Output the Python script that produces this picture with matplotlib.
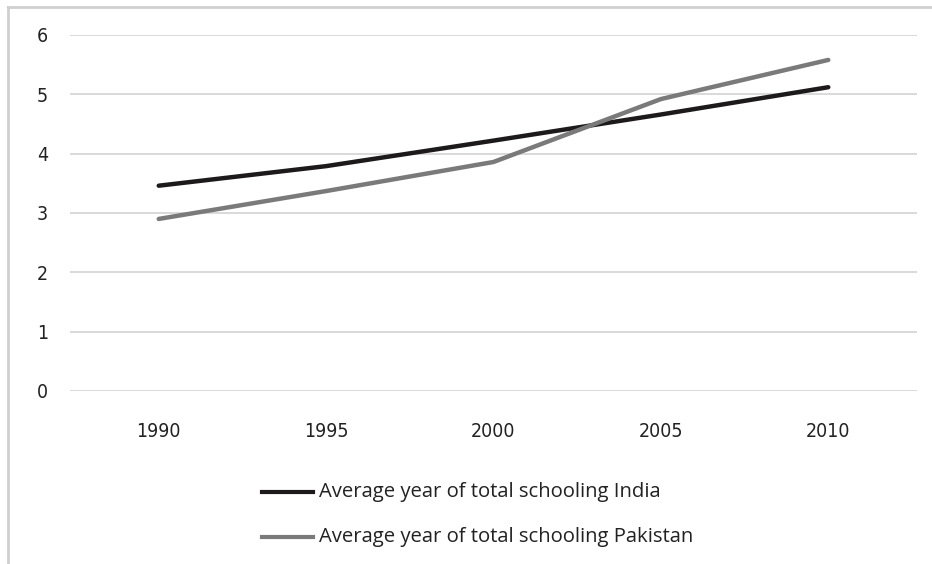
import matplotlib.pyplot as plt
from matplotlib.lines import Line2D

years = ['1990', '1995', '2000', '2005', '2010']
india = [3.46, 3.79, 4.22, 4.66, 5.12]
pakistan = [2.90, 3.37, 3.86, 4.92, 5.58]
y_ticks = [0, 1, 2, 3, 4, 5, 6]

fig = plt.figure(figsize=(9.32, 5.64), dpi=100)
ax = fig.add_axes([70 / 932, 1 - 391 / 564, (917 - 70) / 932, (391 - 35) / 564])

x = list(range(len(years)))
ax.plot(x, india, color='#1c1a1a', lw=3.2, solid_capstyle='round', zorder=3)
ax.plot(x, pakistan, color='#7a7a7a', lw=3.2, solid_capstyle='round', zorder=3)

ax.set_xlim(-0.53, len(years) - 0.47)
ax.set_ylim(0, 6)
ax.set_yticks(y_ticks)
ax.set_xticks(x)
ax.set_xticklabels(years)
ax.grid(axis='y', color='#d0d0d0', lw=1.1)
ax.set_axisbelow(True)
for s in ax.spines.values():
    s.set_visible(False)
ax.tick_params(length=0, labelsize=14, colors='#222222')
ax.tick_params(axis='y', pad=16)
ax.tick_params(axis='x', pad=22)
for lab in ax.get_xticklabels() + ax.get_yticklabels():
    lab.set_family(['DejaVu Sans'])
    lab.set_fontstretch('condensed')

# outer chart border (left and top)
fig.add_artist(Line2D([7.5 / 932, 7.5 / 932], [0, 1 - 7 / 564], color='#cfcfcf', lw=2))
fig.add_artist(Line2D([7.5 / 932, 1], [1 - 7 / 564, 1 - 7 / 564], color='#cfcfcf', lw=2))

# legend below the plot
legend_rows = [('Average year of total schooling India', '#1c1a1a', 492),
               ('Average year of total schooling Pakistan', '#7a7a7a', 537)]
for label, color, ypix in legend_rows:
    yy = 1 - ypix / 564
    fig.add_artist(Line2D([262 / 932, 313 / 932], [yy, yy], color=color, lw=3))
    fig.text(319 / 932, yy, label, fontsize=14.6, color='#222222',
             va='center', ha='left', family=['Open Sans', 'DejaVu Sans'])

fig.savefig('out.png', dpi=100, facecolor='white')
